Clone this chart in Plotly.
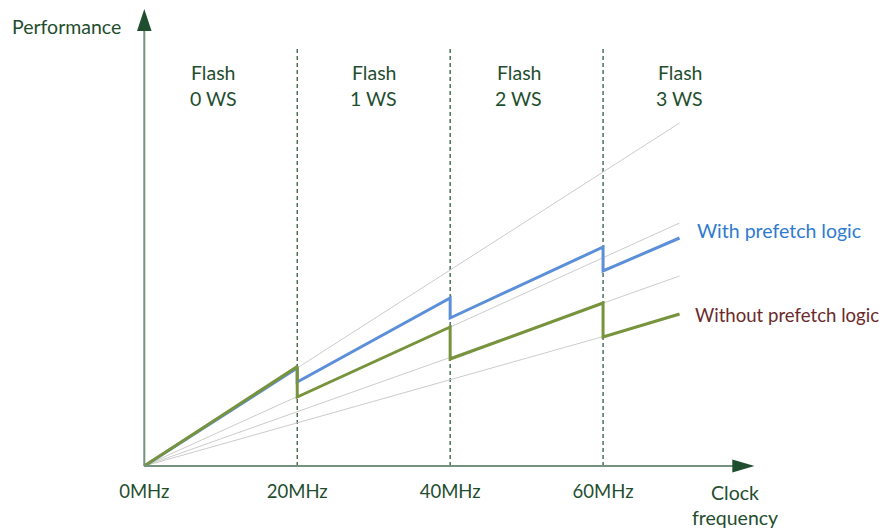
import plotly.graph_objects as go

# clock frequency (MHz) and relative performance
with_x = [0, 20, 20, 40, 40, 60, 60, 70]
with_y = [0, 98, 84, 168, 148, 219, 195, 228]
without_x = [0, 20, 20, 40, 40, 60, 60, 70]
without_y = [0, 99.5, 69, 139, 107, 163, 129, 152]

# grey guide lines from the origin (end value at 70 MHz)
guide_end_x = 70
guide_end_y = [343, 243, 190, 151]

ws_bounds = [20, 40, 60]
ws_labels = ["0 WS", "1 WS", "2 WS", "3 WS"]
ws_label_x = [9, 30, 49, 70]

tick_vals = [0, 20, 40, 60]
tick_text = ["0MHz", "20MHz", "40MHz", "60MHz"]

DARK = "#1f4e2f"
AXIS = "#74937e"
BLUE = "#5b8fd9"
GREEN = "#77933c"
FONT = "Lato, Noto Sans, sans-serif"
TXT = 19.5

fig = go.Figure()

for gy in guide_end_y:
    fig.add_trace(go.Scatter(x=[0, guide_end_x], y=[0, gy], mode="lines",
                             line=dict(color="#cccccc", width=1), hoverinfo="skip"))

fig.add_trace(go.Scatter(x=with_x, y=with_y, mode="lines",
                         line=dict(color=BLUE, width=3), name="With prefetch logic"))
fig.add_trace(go.Scatter(x=without_x, y=without_y, mode="lines",
                         line=dict(color=GREEN, width=3), name="Without prefetch logic"))

for b in ws_bounds:
    fig.add_shape(type="line", x0=b, x1=b, y0=0, y1=420, xref="x", yref="y",
                  line=dict(color=DARK, width=1.2, dash="4px,3px"), layer="below")

for lx, lt in zip(ws_label_x, ws_labels):
    fig.add_annotation(x=lx, y=394, text="Flash", showarrow=False, xanchor="center",
                       font=dict(family=FONT, size=TXT, color=DARK))
    fig.add_annotation(x=lx, y=368, text=lt, showarrow=False, xanchor="center",
                       font=dict(family=FONT, size=TXT, color=DARK))

# axis lines with arrow heads
fig.add_shape(type="line", x0=0, x1=77, y0=0, y1=0, line=dict(color=AXIS, width=2))
fig.add_shape(type="line", x0=0, x1=0, y0=0, y1=436, line=dict(color=AXIS, width=2))
fig.add_shape(type="path", xref="x", yref="y", path="M 76.9,6.5 L 79.8,0 L 76.9,-6.5 Z",
              fillcolor=DARK, line=dict(width=0))
fig.add_shape(type="path", xref="x", yref="y", path="M -0.95,435 L 0,457 L 0.95,435 Z",
              fillcolor=DARK, line=dict(width=0))

# the page body adds an 8px offset; margins compensate for it
OFF = 8
L, R, T, B = 120.7, 145, 0, 61
PW, PH = 893 - L - R, 529 - T - B


def px(x, y):
    return (x - OFF - L) / PW, (529 - B - (y - OFF)) / PH


for (x, y), txt, col, anchor, size in [
    ((66, 27), "Performance", DARK, "center", TXT),
    ((735, 492), "Clock", DARK, "center", TXT),
    ((735, 518), "frequency", DARK, "center", TXT),
    ((695, 230), "With prefetch logic", "#2e7bcf", "left", TXT),
    ((693, 315), "Without prefetch logic", "#6b2a2a", "left", 18.6),
]:
    ax, ay = px(x, y)
    fig.add_annotation(x=ax, y=ay, xref="paper", yref="paper", text=txt,
                       showarrow=False, xanchor=anchor, yanchor="middle",
                       font=dict(family=FONT, size=size, color=col))

fig.update_xaxes(range=[-2, 80], showgrid=False, zeroline=False, showline=False,
                 tickvals=tick_vals, ticktext=tick_text,
                 ticks="", ticklabelstandoff=2,
                 tickfont=dict(family=FONT, size=18.5, color=DARK))
fig.update_yaxes(range=[-10, 458], showgrid=False, zeroline=False, showline=False,
                 showticklabels=False, ticks="")
fig.update_layout(
    width=893, height=529,
    margin=dict(l=L, r=R, t=T, b=B),
    plot_bgcolor="white", paper_bgcolor="white",
    showlegend=False,
)

fig.write_html("out.html")
